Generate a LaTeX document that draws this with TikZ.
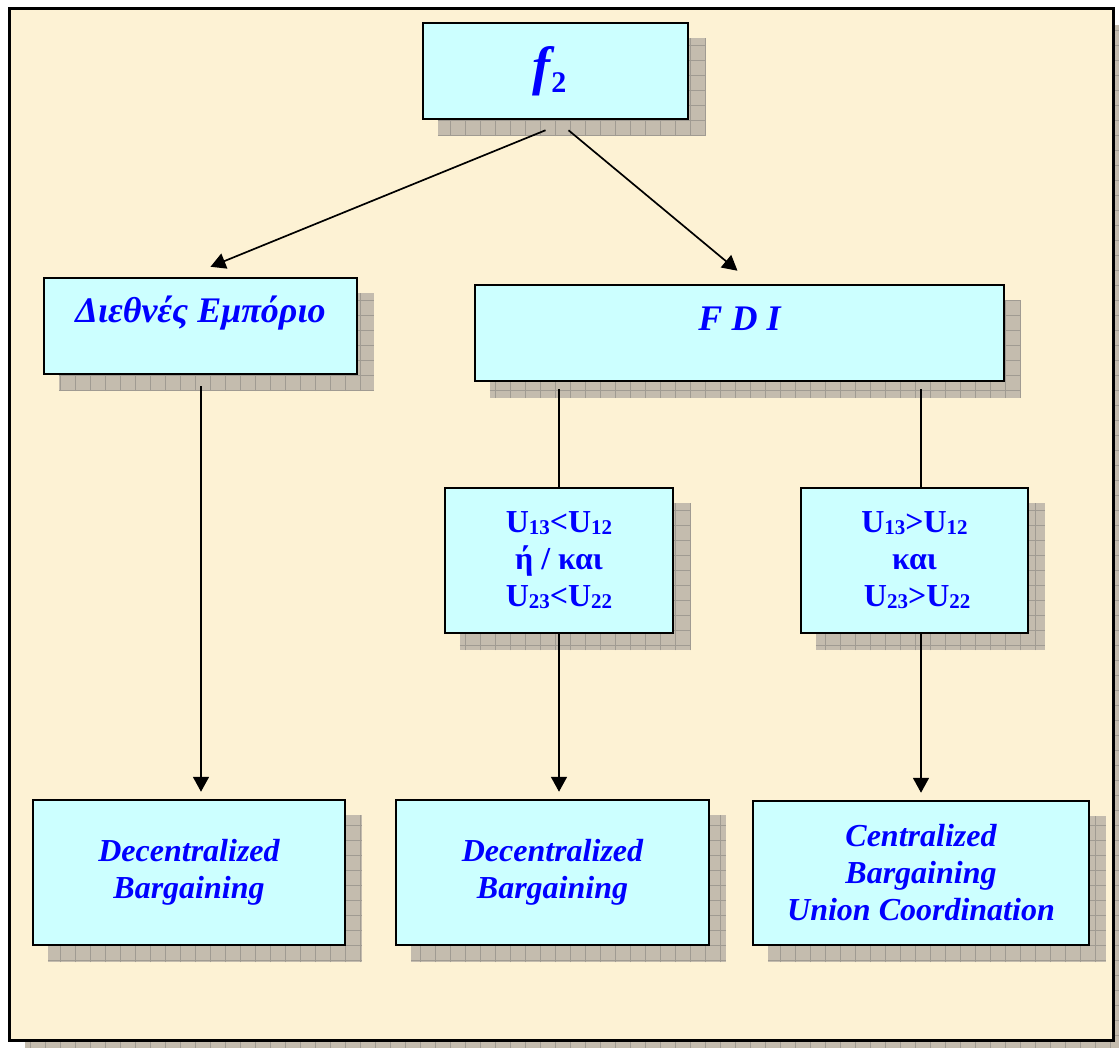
\documentclass[tikz,border=0pt]{standalone}
\usepackage{fontspec}
\setmainfont{Liberation Serif}
\usetikzlibrary{arrows.meta}
\definecolor{bgcol}{RGB}{253,242,212}
\definecolor{boxfill}{RGB}{204,255,255}
\definecolor{txtblue}{RGB}{0,0,255}
\definecolor{shcol}{RGB}{196,188,174}
\definecolor{gridcol}{RGB}{160,155,146}
\pgfdeclarelayer{shadowlayer}
\pgfsetlayers{shadowlayer,main}
\newcommand\dropsh[1]{%
  \fill[shcol] ([shift={(16,16)}]#1.south west) rectangle ([shift={(16,16)}]#1.north east);
  \draw[gridcol, line width=0.5pt, step=15pt] ([shift={(16,16)}]#1.south west) grid ([shift={(16,16)}]#1.north east);}
\newcommand\sbx[1]{\raisebox{-2pt}{\fontsize{21}{21}\selectfont #1}}
\tikzset{
  box/.style={draw=black, line width=2.5pt, fill=boxfill, inner sep=0pt, text=txtblue, align=center,
    font=\fontsize{32}{37}\selectfont\bfseries\itshape},
  bigbox/.style={box, font=\fontsize{36}{40}\selectfont\bfseries\itshape},
  ubox/.style={box, font=\fontsize{32}{37}\selectfont\bfseries},
  conn/.style={line width=1.7pt, black},
  arr/.style={conn, -{Triangle[length=15pt,width=16pt]}}
}
\begin{document}
\begin{tikzpicture}[x=1pt,y=-1pt]
\useasboundingbox (0,0) rectangle (1119,1048);
\clip (0,0) rectangle (1119,1048);
\begin{pgfonlayer}{shadowlayer}
  \fill[shcol] (25,1056) rectangle (1129,25);
  \draw[gridcol, line width=0.5pt, step=15pt] (25,1056) grid (1129,25);
  \fill[bgcol] (9,1040) rectangle (1113,9);
  \draw[black, line width=3pt] (9,1040) rectangle (1113,9);
\end{pgfonlayer}

\node[box, minimum width=265pt, minimum height=96pt, text height=40pt, text depth=12pt,
  font=\fontsize{54}{60}\selectfont\bfseries\itshape] (f2) at (555.5,71)
  {f\kern1pt\raisebox{-8pt}{\fontsize{30}{30}\selectfont\upshape 2}\kern12pt};
\node[bigbox, minimum width=313pt, minimum height=96pt, text height=22pt, text depth=28pt] (dia) at (200.5,326)
  {Διεθνές Εμπόριο};
\node[bigbox, minimum width=529pt, minimum height=96pt, text height=22pt, text depth=26pt] (fdi) at (739.5,333)
  {F D I};
\node[ubox, minimum width=228pt, minimum height=145pt] (u1) at (559,560.5)
  {U\sbx{13}<U\sbx{12}\\ ή / και\\ U\sbx{23}<U\sbx{22}};
\node[ubox, minimum width=227pt, minimum height=145pt] (u2) at (914.5,560.5)
  {U\sbx{13}>U\sbx{12}\\ και\\ \,U\sbx{23}>U\sbx{22}};
\node[box, minimum width=312pt, minimum height=145pt] (dec1) at (189,872.5)
  {Decentralized\\ Bargaining};
\node[box, minimum width=313pt, minimum height=145pt] (dec2) at (552.5,872.5)
  {Decentralized\\ Bargaining};
\node[box, minimum width=336pt, minimum height=144pt] (cen) at (921,873)
  {Centralized\\ Bargaining\\ Union Coordination};

\begin{pgfonlayer}{shadowlayer}
  \dropsh{f2}\dropsh{dia}\dropsh{fdi}\dropsh{u1}\dropsh{u2}\dropsh{dec1}\dropsh{dec2}\dropsh{cen}
\end{pgfonlayer}

\draw[arr] ([shift={(-10,10)}]f2.south) -- ([shift={(10,-10)}]dia.north);
\draw[arr] ([shift={(13,10)}]f2.south) -- ([shift={(-2,-13)}]fdi.north);
\draw[arr] ([shift={(0.5,11)}]dia.south) -- ([shift={(0.5,-7)}]dia.south |- dec1.north);
\draw[conn] ([yshift=-7pt]u1.north |- fdi.south) -- (u1.north);
\draw[arr] (u1.south) -- ([yshift=7pt]u1.south |- dec2.north);
\draw[conn] ([yshift=-7pt]cen.north |- fdi.south) -- (cen.north |- u2.north);
\draw[arr] (cen.north |- u2.south) -- ([yshift=7pt]cen.north);
\end{tikzpicture}
\end{document}
